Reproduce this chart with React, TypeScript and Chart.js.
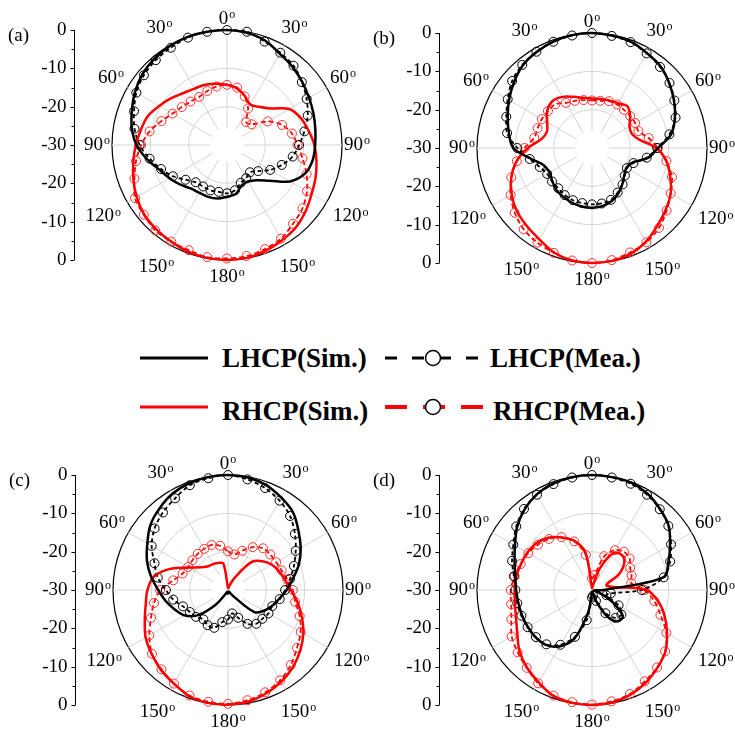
import React, { useEffect, useRef } from 'react';
import { Chart, registerables } from 'chart.js';

Chart.register(...registerables);

// ---------- data ----------
const ANGLES = [0, 10, 20, 30, 40, 50, 60, 70, 80, 90, 100, 110, 120, 130, 140, 150, 160, 170, 180, 190, 200, 210, 220, 230, 240, 250, 260, 270, 280, 290, 300, 310, 320, 330, 340, 350];
const RADIAL_TICKS = [0, -10, -20, -30];
const MINOR_TICKS = [0, -5, -10, -15, -20, -25, -30];
const ANGLE_TICKS = [0, 30, 60, 90, 120, 150, 180, 210, 240, 270, 300, 330];
const SERIES_NAMES = ['LHCP(Sim.)', 'RHCP(Sim.)', 'LHCP(Mea.)', 'RHCP(Mea.)'];
const PANEL_NAMES = ['(a)', '(b)', '(c)', '(d)'];

const A_LHCP_SIM = [0, -0.3, -1, -2.5, -3.4, -4.4, -5.3, -6, -6.6, -7, -7.3, -8.3, -11, -15.5, -18, -19, -18.8, -17, -16.5, -15.8, -15.6, -15.6, -15.2, -14, -12.7, -11.2, -8.8, -6.4, -4.8, -3.6, -2.3, -1.2, -0.6, -0.2, 0, 0];
const A_LHCP_MEA = [0, 0, -1.3, -2.2, -3, -4.5, -6, -7.6, -9.5, -11.2, -12.6, -14.8, -17, -19.4, -20.7, -20, -19.5, -18, -17.4, -17.6, -17.4, -17.5, -17.3, -15.9, -13.7, -11.7, -9.5, -7.2, -5.5, -4.2, -2.7, -1.7, -1.1, -0.7, -0.2, 0];
const A_RHCP_SIM = [-14.3, -15, -16.4, -17.8, -17, -15.2, -11.2, -9.5, -8.4, -7.2, -6.3, -5.4, -4.5, -3.2, -2, -1.3, -0.6, -0.1, 0, -0.1, -0.4, -0.9, -1.3, -1.8, -2.8, -4, -5.2, -6.2, -7.2, -8, -9.6, -11, -12.3, -13, -13.3, -13.8];
const A_RHCP_MEA = [-14.3, -14.8, -16.5, -19, -22.2, -21.6, -17.7, -14.7, -12.8, -11.6, -10, -7.9, -5.9, -4.3, -3.2, -1.8, -1.1, -0.6, -0.4, -0.3, -0.8, -0.9, -0.9, -1.7, -2.3, -4.3, -5.9, -7.6, -9.5, -11.8, -13.6, -14.6, -15.2, -15.5, -15, -14.5];

const B_LHCP_SIM = [0, -0.2, -0.5, -1.4, -2.2, -3.7, -5.3, -7, -9, -12.8, -15.2, -18.8, -19.6, -19, -17.7, -16.3, -15.2, -14.6, -14.4, -14.5, -14.8, -15.2, -15.6, -16.5, -17.2, -16.7, -13.8, -9.5, -8, -6.6, -5, -3.4, -1.9, -1.1, -0.5, -0.1];
const B_LHCP_MEA = [0, -0.3, -0.6, -1.5, -2.4, -3.6, -5.2, -6.8, -9.5, -13, -15.5, -18.5, -19.5, -18.8, -17.6, -16.6, -15.6, -15.3, -15.3, -15.4, -15.5, -15.8, -16.3, -16.4, -16.5, -15.5, -13.5, -10.5, -7.5, -6.2, -4.6, -2.8, -1.7, -1, -0.5, -0.2];
const B_RHCP_SIM = [-17.1, -17, -16.8, -16.5, -15.7, -17, -18.7, -19, -17.5, -13.2, -10.3, -8.3, -6.3, -4.9, -3.5, -1.8, -0.6, -0.1, 0, -0.2, -1, -2.5, -3.5, -4.4, -5.8, -7.6, -10, -13.3, -16.6, -17.5, -16.5, -14.8, -14, -14.6, -15.8, -16.7];
const B_RHCP_MEA = [-17.6, -17.5, -17, -16.9, -17, -17, -17, -17.1, -15, -12.8, -10.3, -7.8, -6.3, -4.6, -2.8, -1.6, -1, -0.3, 0, -0.2, -0.9, -1.5, -2.3, -3.7, -5.5, -7.6, -10.1, -12.4, -14.7, -14.9, -14.9, -15, -15.1, -16.4, -16.9, -17.3];

const C_LHCP_SIM = [0, -0.2, -0.9, -2.2, -3.6, -6, -8.1, -10.3, -12.8, -14.7, -16.5, -17.8, -19.2, -21, -28, -29.5, -29.5, -29.5, -29, -29.5, -29.5, -29, -25, -19.8, -16.8, -15.2, -13.5, -11.8, -9.6, -7.5, -5.7, -3.6, -2.2, -1, -0.4, -0.1];
const C_LHCP_MEA = [0, -0.7, -1.7, -3.1, -4.8, -7.2, -9.6, -11.7, -13.6, -15.1, -16.3, -17.7, -17.8, -18.3, -18.5, -19.8, -22.3, -23.8, -22.3, -21.5, -19.5, -19.4, -20, -19.1, -18.5, -17.5, -15.5, -13.8, -11.4, -9.6, -7, -5, -3.6, -2.4, -0.9, -0.4];
const C_RHCP_SIM = [-29.5, -29.5, -28.5, -26, -20.5, -18.3, -16.8, -15.8, -14.9, -13.6, -11.6, -9.5, -7.3, -5.4, -3.7, -2.3, -1.2, -0.4, -0.1, -0.1, -0.5, -1.8, -2.8, -4, -5.2, -6.9, -8.2, -9, -10.3, -13.9, -18.3, -20.8, -21.9, -22.2, -22.5, -23];
const C_RHCP_MEA = [-19.9, -20.6, -19.1, -17.1, -15.8, -15.6, -15.5, -15.1, -14.3, -13.1, -12.2, -10.1, -8.1, -6.5, -4.5, -2.8, -1.6, -0.8, -0.3, -0.4, -0.7, -1.8, -3, -4.1, -6.3, -8.6, -10.4, -12.3, -15.5, -17.4, -18, -17.9, -17.7, -17.6, -17.5, -18.3];

const D_LHCP_SIM = [0, -0.1, -0.2, -1, -2.4, -3.9, -6.5, -8.8, -11.1, -27, -29.5, -28, -24, -19.5, -19.4, -22, -27, -29.5, -29.5, -24, -16.5, -13, -11.3, -10.8, -10.7, -10.6, -10.5, -10.2, -9.7, -8.5, -6.8, -4.5, -2.6, -1.2, -0.5, -0.1];
const D_LHCP_MEA = [0, -0.2, -0.5, -1.3, -2.5, -4, -6.2, -8.3, -11, -17, -25, -26, -22, -20, -20.5, -23, -27, -28.5, -28, -22, -17, -13.5, -11.5, -10.9, -10.6, -10.4, -10.2, -10, -9.3, -7.8, -6.3, -4.2, -2.4, -1.3, -0.6, -0.2];
const D_RHCP_SIM = [-29.5, -29, -24, -18.9, -18, -19, -22, -26, -25, -15.8, -12.4, -9.8, -7.4, -5, -3.5, -2, -0.9, -0.2, 0, -0.1, -0.6, -2.2, -3.6, -5.3, -7.5, -8.9, -9.6, -9.8, -9.9, -10.3, -10.5, -11, -12.2, -14.2, -16.3, -20];
const D_RHCP_MEA = [-27, -26, -20.6, -18, -17, -17.2, -18.5, -19, -19.6, -16.3, -13.5, -11, -7.6, -5.1, -3.6, -2.5, -1.1, -0.5, -0.1, -0.3, -0.7, -1.9, -3.5, -4.7, -5.8, -7.6, -8.6, -8.8, -9.5, -10.2, -10.8, -11.6, -12.6, -14.1, -16.5, -20.7];

// ---------- styling ----------
const SERIF = '"Liberation Serif", "Times New Roman", Times, serif';
const RED = '#ff0000';
const RADIUS = 115;
const LABEL_GAP: Record<number, number> = { 0: 11, 30: 20, 60: 19, 90: 15, 120: 28, 150: 26, 180: 17 };

Chart.defaults.font.family = SERIF;

const decorPlugin = {
  id: 'polarDecor',
  beforeDatasetsDraw(chart: any) {
    const s = chart.scales.r;
    const ctx = chart.ctx;
    ctx.save();
    ctx.fillStyle = '#ffffff';
    ctx.beginPath();
    ctx.arc(s.xCenter, s.yCenter, 17, 0, Math.PI * 2);
    ctx.fill();
    ctx.restore();
  },
  afterDraw(chart: any, _args: any, opts: any) {
    const s = chart.scales.r;
    const ctx = chart.ctx;
    const cx = s.xCenter;
    const cy = s.yCenter;
    const R = s.getDistanceFromCenterForValue(0);
    const ax = cx - 153 + 0.5;
    ctx.save();
    // left value axis
    ctx.strokeStyle = '#000';
    ctx.lineWidth = 1;
    ctx.beginPath();
    ctx.moveTo(ax, cy - R);
    ctx.lineTo(ax, cy + R);
    MINOR_TICKS.forEach((v) => {
      const d = s.getDistanceFromCenterForValue(v);
      const len = v % 10 === 0 ? 4 : 3;
      [cy - d, cy + d].forEach((y) => {
        const yy = Math.round(y) + 0.5;
        ctx.moveTo(ax, yy);
        ctx.lineTo(ax - len, yy);
      });
    });
    ctx.stroke();
    ctx.fillStyle = '#000';
    ctx.font = `19px ${SERIF}`;
    ctx.textAlign = 'right';
    ctx.textBaseline = 'middle';
    RADIAL_TICKS.forEach((v) => {
      const d = s.getDistanceFromCenterForValue(v);
      ctx.fillText(String(v), ax - 8, cy - d);
      if (v !== -30) ctx.fillText(String(v), ax - 8, cy + d);
    });
    // panel label
    ctx.textAlign = 'left';
    ctx.fillText(opts.label, cx - 219, cy - R + 6);
    // angle labels with superscript o
    ANGLE_TICKS.forEach((a) => {
      const idx = ANGLES.indexOf(a);
      const shown = a <= 180 ? a : 360 - a;
      const p = s.getPointPosition(idx, R + LABEL_GAP[shown]);
      const num = String(shown);
      ctx.font = `19px ${SERIF}`;
      const wn = ctx.measureText(num).width;
      ctx.font = `12px ${SERIF}`;
      const wo = ctx.measureText('o').width;
      const x0 = p.x - (wn + wo + 1) / 2;
      ctx.font = `19px ${SERIF}`;
      ctx.textAlign = 'left';
      ctx.textBaseline = 'middle';
      ctx.fillText(num, x0, p.y);
      ctx.font = `12px ${SERIF}`;
      ctx.textBaseline = 'alphabetic';
      ctx.fillText('o', x0 + wn + 1, p.y - 0.8);
    });
    ctx.restore();
  },
};

type PanelProps = {
  label: string;
  left: number;
  top: number;
  width: number;
  height: number;
  cx: number;
  cy: number;
  lhcpSim: number[];
  lhcpMea: number[];
  rhcpSim: number[];
  rhcpMea: number[];
};

function Panel(p: PanelProps) {
  const ref = useRef<HTMLCanvasElement>(null);
  useEffect(() => {
    const R = RADIUS;
    let chart: any = null;
    let cancelled = false;
    const build = () => {
      if (cancelled || !ref.current) return;
      chart = new Chart(ref.current as HTMLCanvasElement, {
        type: 'radar',
        data: {
          labels: ANGLES.map(String),
          datasets: [
            {
              label: SERIES_NAMES[0],
              data: p.lhcpSim,
              borderColor: '#000',
              borderWidth: 2.5,
              pointRadius: 0,
              fill: false,
              tension: 0.35,
            },
            {
              label: SERIES_NAMES[1],
              data: p.rhcpSim,
              borderColor: RED,
              borderWidth: 2.5,
              pointRadius: 0,
              fill: false,
              tension: 0.35,
            },
            {
              label: SERIES_NAMES[2],
              data: p.lhcpMea,
              borderColor: '#000',
              borderWidth: 1.8,
              borderDash: [4, 3],
              pointRadius: 4.5,
              pointBorderWidth: 1,
              pointBorderColor: '#000',
              pointBackgroundColor: 'rgba(255,255,255,0)',
              fill: false,
              tension: 0.3,
            },
            {
              label: SERIES_NAMES[3],
              data: p.rhcpMea,
              borderColor: RED,
              borderWidth: 1.8,
              borderDash: [5, 3],
              pointRadius: 4.5,
              pointBorderWidth: 1,
              pointBorderColor: '#ff3333',
              pointBackgroundColor: 'rgba(255,255,255,0)',
              fill: false,
              tension: 0.3,
            },
          ],
        },
        options: {
          responsive: false,
          animation: false,
          events: [],
          layout: {
            padding: {
              left: p.cx - p.left - R,
              top: p.cy - p.top - R,
              right: p.left + p.width - p.cx - R,
              bottom: p.top + p.height - p.cy - R,
            },
          },
          plugins: {
            legend: { display: false },
            tooltip: { enabled: false },
            polarDecor: { label: p.label },
          },
          scales: {
            r: {
              min: -30,
              max: 0,
              ticks: { display: false, stepSize: 10 },
              pointLabels: { display: false },
              grid: {
                circular: true,
                color: (c: any) => (c.tick && c.tick.value === 0 ? '#000' : '#d4d4d4'),
                lineWidth: (c: any) => (c.tick && c.tick.value === 0 ? 1.2 : 1),
              },
              angleLines: {
                color: '#d4d4d4',
                lineWidth: (c: any) => (c.index % 3 === 0 ? 1 : 0),
              },
            },
          },
        } as any,
        plugins: [decorPlugin],
      });
    };
    const fonts: any = (document as any).fonts;
    if (fonts && fonts.load) {
      Promise.all([fonts.load(`19px ${SERIF}`), fonts.load(`12px ${SERIF}`)])
        .catch(() => null)
        .then(build);
    } else {
      build();
    }
    return () => {
      cancelled = true;
      if (chart) chart.destroy();
    };
  }, []);
  return (
    <canvas
      ref={ref}
      width={p.width}
      height={p.height}
      style={{ position: 'absolute', left: p.left, top: p.top, width: p.width, height: p.height }}
    />
  );
}

function Legend() {
  const textStyle = { fontFamily: SERIF, fontWeight: 'bold' as const, fontSize: 27 };
  return (
    <svg width={735} height={110} style={{ position: 'absolute', left: 0, top: 320 }}>
      <line x1={140} x2={208} y1={38} y2={38} stroke="#000" strokeWidth={3} />
      <text x={222} y={47} fill="#000" style={textStyle}>{SERIES_NAMES[0]}</text>
      <line x1={385} x2={478} y1={38} y2={38} stroke="#000" strokeWidth={3} strokeDasharray="12 15" />
      <circle cx={433} cy={38} r={7.5} fill="#fff" stroke="#000" strokeWidth={1.5} />
      <text x={490} y={47} fill="#000" style={textStyle}>{SERIES_NAMES[2]}</text>

      <line x1={140} x2={208} y1={87} y2={87} stroke={RED} strokeWidth={3} />
      <text x={222} y={100} fill="#000" style={textStyle}>{SERIES_NAMES[1]}</text>
      <line x1={385} x2={483} y1={87} y2={87} stroke={RED} strokeWidth={4} strokeDasharray="22 16" />
      <circle cx={433} cy={87} r={7.5} fill="#fff" stroke="#000" strokeWidth={1.5} />
      <text x={493} y={100} fill="#000" style={textStyle}>{SERIES_NAMES[3]}</text>
    </svg>
  );
}

export default function App() {
  return (
    <div style={{ position: 'absolute', left: 0, top: 0, width: 735, height: 730, background: '#fff' }}>
      <Panel label={PANEL_NAMES[0]} left={0} top={0} width={400} height={300} cx={227} cy={145}
        lhcpSim={A_LHCP_SIM} lhcpMea={A_LHCP_MEA} rhcpSim={A_RHCP_SIM} rhcpMea={A_RHCP_MEA} />
      <Panel label={PANEL_NAMES[1]} left={335} top={0} width={400} height={300} cx={592} cy={148}
        lhcpSim={B_LHCP_SIM} lhcpMea={B_LHCP_MEA} rhcpSim={B_RHCP_SIM} rhcpMea={B_RHCP_MEA} />
      <Panel label={PANEL_NAMES[2]} left={0} top={430} width={400} height={300} cx={228} cy={590}
        lhcpSim={C_LHCP_SIM} lhcpMea={C_LHCP_MEA} rhcpSim={C_RHCP_SIM} rhcpMea={C_RHCP_MEA} />
      <Panel label={PANEL_NAMES[3]} left={335} top={430} width={400} height={300} cx={592} cy={590}
        lhcpSim={D_LHCP_SIM} lhcpMea={D_LHCP_MEA} rhcpSim={D_RHCP_SIM} rhcpMea={D_RHCP_MEA} />
      <Legend />
    </div>
  );
}
